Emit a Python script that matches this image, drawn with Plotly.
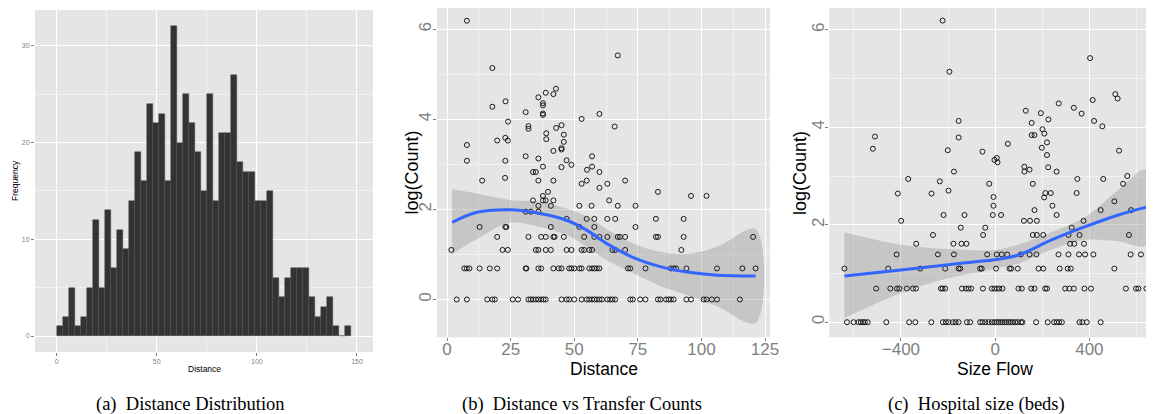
import plotly.graph_objects as go

# ---------------- data ----------------
# (a) histogram: bins of width 3 starting at 0
bin_start = [0, 3, 6, 9, 12, 15, 18, 21, 24, 27, 30, 33, 36, 39, 42, 45, 48, 51, 54, 57,
             60, 63, 66, 69, 72, 75, 78, 81, 84, 87, 90, 93, 96, 99, 102, 105, 108, 111,
             114, 117, 120, 123, 126, 129, 132, 135, 138, 141, 144]
freq = [1, 2, 5, 1, 2, 5, 12, 5, 13, 7, 11, 9, 14, 19, 16, 24, 22, 23, 16, 32,
        20, 25, 22, 19, 15, 25, 14, 21, 21, 27, 18, 17, 17, 14, 14, 15, 6, 4,
        6, 7, 7, 7, 4, 2, 3, 4, 1, 0, 1]
bin_width = 3

# (b) Distance vs log(Count)
dist_x = [7.8, 17.8, 67.1, 23.0, 17.8, 35.9, 38.8, 42.8, 41.8, 37.7, 37.7, 37.7, 37.7, 30.9,
          52.9, 59.9, 24.0, 32.0, 32.0, 42.9, 45.0, 65.9, 39.0, 45.9, 39.0, 45.9, 7.8, 22.9,
          19.7, 23.9, 45.0, 45.0, 41.8, 7.8, 22.9, 30.9, 35.9, 57.0, 47.0, 45.0, 48.9, 37.7,
          57.0, 55.0, 33.8, 34.9, 59.9, 22.8, 13.8, 35.9, 41.8, 52.9, 54.9, 63.0, 70.0, 59.9,
          39.7, 37.7, 82.9, 95.9, 102.0, 33.8, 37.7, 38.8, 41.8, 63.7, 35.9, 40.8, 52.0, 56.8,
          67.1, 74.1, 30.9, 32.9, 35.9, 47.0, 54.9, 57.9, 63.0, 66.1, 82.1, 93.0, 12.8, 22.9,
          23.3, 40.8, 52.0, 57.9, 74.1,
          19.7, 32.0, 37.0, 38.8, 41.8, 42.3, 45.9, 53.9, 57.9, 59.9, 63.0, 67.1, 68.0, 70.0,
          82.1, 82.9, 93.0, 120.3,
          1.7, 21.8, 23.9, 34.9, 35.9, 38.8, 40.8, 47.0, 48.9, 52.9, 53.9, 55.9, 57.0, 65.0,
          66.1, 70.0, 92.1,
          6.8, 7.8, 8.8, 12.8, 16.8, 19.7, 30.9, 31.2, 35.9, 37.0, 41.8, 43.9, 45.0, 48.0,
          48.9, 50.0, 52.0, 52.9, 55.9, 57.0, 57.9, 58.9, 59.9, 71.1, 72.0, 78.0, 88.0, 89.1,
          90.0, 94.1, 106.1, 116.1, 121.3,
          3.8, 7.8, 15.8, 17.8, 18.8, 25.8, 27.9, 32.0, 32.9, 33.8, 34.9, 35.9, 37.0, 37.9,
          38.8, 45.0, 47.0, 48.0, 50.0, 52.9, 54.9, 55.9, 57.0, 57.9, 58.9, 59.9, 60.9, 63.0,
          64.1, 65.0, 66.1, 72.0, 73.0, 75.9, 78.0, 82.9, 83.9, 86.1, 87.1, 88.0, 89.1, 94.1,
          95.9, 100.9, 102.0, 104.1, 106.1, 115.1]
dist_y = [6.19, 5.14, 5.42, 4.40, 4.28, 4.49, 4.59, 4.68, 4.56, 4.36, 4.31, 4.13, 4.10, 4.16,
          4.01, 4.12, 3.95, 3.85, 3.79, 3.81, 3.87, 3.84, 3.69, 3.66, 3.56, 3.50, 3.43, 3.59,
          3.53, 3.53, 3.36, 3.33, 3.30, 3.08, 3.08, 3.18, 3.13, 3.18, 3.09, 2.94, 2.99, 2.95,
          2.95, 2.88, 2.83, 2.83, 2.83, 2.70, 2.64, 2.64, 2.64, 2.57, 2.64, 2.57, 2.64, 2.48,
          2.39, 2.30, 2.39, 2.30, 2.30, 2.20, 2.20, 2.20, 2.20, 2.20, 2.08, 2.08, 2.08, 2.08,
          2.08, 2.08, 1.95, 1.95, 1.95, 1.79, 1.79, 1.79, 1.79, 1.79, 1.79, 1.79, 1.61, 1.61,
          1.61, 1.61, 1.61, 1.61, 1.61,
          1.39, 1.39, 1.39, 1.39, 1.39, 1.39, 1.39, 1.39, 1.39, 1.39, 1.39, 1.39, 1.39, 1.39,
          1.39, 1.39, 1.39, 1.39,
          1.10, 1.10, 1.10, 1.10, 1.10, 1.10, 1.10, 1.10, 1.10, 1.10, 1.10, 1.10, 1.10, 1.10,
          1.10, 1.10, 1.10,
          0.69, 0.69, 0.69, 0.69, 0.69, 0.69, 0.69, 0.69, 0.69, 0.69, 0.69, 0.69, 0.69, 0.69,
          0.69, 0.69, 0.69, 0.69, 0.69, 0.69, 0.69, 0.69, 0.69, 0.69, 0.69, 0.69, 0.69, 0.69,
          0.69, 0.69, 0.69, 0.69, 0.69,
          0, 0, 0, 0, 0, 0, 0, 0, 0, 0, 0, 0, 0, 0,
          0, 0, 0, 0, 0, 0, 0, 0, 0, 0, 0, 0, 0, 0,
          0, 0, 0, 0, 0, 0, 0, 0, 0, 0, 0, 0, 0, 0,
          0, 0, 0, 0, 0, 0]
# loess fit (b)
fit_b_x = [2.0, 11.4, 24.6, 36.4, 47.0, 54.9, 62.8, 73.3, 83.8, 94.3, 106.2, 121.3]
fit_b_y = [1.71, 1.93, 1.99, 1.91, 1.76, 1.54, 1.24, 0.93, 0.73, 0.61, 0.54, 0.52]
fit_b_hi = [2.45, 2.36, 2.21, 2.17, 2.02, 1.84, 1.56, 1.24, 1.06, 1.01, 1.17, 1.56]
fit_b_lo = [1.01, 1.33, 1.70, 1.61, 1.43, 1.17, 0.87, 0.58, 0.30, 0.10, -0.15, -0.52]

# (c) Size Flow vs log(Count)
flow_x = [-223, -194, -155, -510, -155, -519, -201, -54, -175, -369, -235, -25, -413, -270,
          -198, -7, -7, -219, -130, -10, -399, -146, -42, -264, -51, -335, -177, -143, -122,
          -418, -243, -175, -34, -640, -454, -318, -212, -155, -148, -64, -57,
          -505, -445, -417, -407, -375, -349, -336, -230, -223, -212, -141, -124, -113, -102, -52,
          -629, -601, -580, -570, -561, -553, -541, -462, -365, -339, -271, -222, -209, -198,
          -180, -168, -155, -120, -106, -64, -54, -42, -28, -14, -3,
          403, 510, 520, 414, 270, 334, 130, 194, 367, 226, 420, 155, 455, 201, 209, 155, 167,
          54, 220, 198, 220, 526, -3, 7, 10, 124, 124, 146, 225, 261, 349, 459, 561, 160, 543,
          213, 208, 236, 346, 25, 167, 243, 261, 448, 506, 577, 122, 148, 177, 375, 325, 160,
          177, 204, 311, 358, 568, 318, 336, 377,
          7, 28, 51, 109, 146, 175, 269, 311, 356, 382, 417, 575, 619,
          4, 61, 68, 96, 184, 204, 274, 308, 321, 506,
          -14, -3, 8, 18, 31, 99, 113, 153, 167, 212, 220, 297, 315, 334, 379, 407, 555, 598,
          608, 642,
          6, 14, 23, 31, 40, 48, 57, 65, 74, 85, 96, 110, 116, 174, 223, 250, 261, 271, 283,
          358, 370, 389, 448]
flow_y = [6.19, 5.14, 4.13, 3.81, 3.79, 3.56, 3.53, 3.50, 3.09, 2.94, 2.89, 2.84, 2.64, 2.64,
          2.70, 2.57, 2.39, 2.20, 2.20, 2.20, 2.08, 1.94, 1.94, 1.79, 1.79, 1.61, 1.61, 1.61, 1.61,
          1.39, 1.39, 1.39, 1.39, 1.10, 1.10, 1.10, 1.10, 1.10, 1.10, 1.10, 1.10,
          0.69, 0.69, 0.69, 0.69, 0.69, 0.69, 0.69, 0.69, 0.69, 0.69, 0.69, 0.69, 0.69, 0.69, 0.69,
          0, 0, 0, 0, 0, 0, 0, 0, 0, 0, 0, 0, 0, 0,
          0, 0, 0, 0, 0, 0, 0, 0, 0, 0, 0,
          5.42, 4.68, 4.59, 4.56, 4.49, 4.40, 4.34, 4.29, 4.28, 4.16, 4.13, 4.09, 4.02, 3.96, 3.87,
          3.84, 3.84, 3.66, 3.69, 3.58, 3.43, 3.52, 3.33, 3.37, 3.28, 3.19, 3.09, 3.13, 3.18, 3.09,
          2.94, 2.94, 3.00, 2.84, 2.84, 2.65, 2.56, 2.65, 2.65, 2.20, 2.30, 2.39, 2.20, 2.30, 2.48,
          2.30, 2.08, 2.08, 2.08, 2.08, 1.94, 1.79, 1.79, 1.79, 1.79, 1.79, 1.79, 1.61, 1.61, 1.61,
          1.39, 1.39, 1.39, 1.39, 1.39, 1.39, 1.39, 1.39, 1.39, 1.39, 1.39, 1.39, 1.39,
          1.10, 1.10, 1.10, 1.10, 1.10, 1.10, 1.10, 1.10, 1.10, 1.10,
          0.69, 0.69, 0.69, 0.69, 0.69, 0.69, 0.69, 0.69, 0.69, 0.69, 0.69, 0.69, 0.69, 0.69,
          0.69, 0.69, 0.69, 0.69, 0.69, 0.69,
          0, 0, 0, 0, 0, 0, 0, 0, 0, 0, 0, 0, 0, 0, 0, 0, 0, 0, 0,
          0, 0, 0, 0]
# loess fit (c)
fit_c_x = [-640, -400, -200, -42, 0, 99, 240, 382, 523, 642]
fit_c_y = [0.95, 1.07, 1.18, 1.26, 1.28, 1.38, 1.69, 1.96, 2.20, 2.36]
fit_c_hi = [1.84, 1.59, 1.50, 1.47, 1.48, 1.59, 1.85, 2.16, 2.72, 3.13]
fit_c_lo = [0.08, 0.60, 0.90, 1.05, 1.10, 1.20, 1.49, 1.69, 1.66, 1.58]

captions = ["(a)\u00a0 Distance Distribution",
            "(b)\u00a0 Distance vs Transfer Counts",
            "(c)\u00a0 Hospital size (beds)"]

# ---------------- style ----------------
W, H = 1154, 414
OFF = 8  # default page margin around the plot div
BG = "#E5E5E5"
TICKC = "#7F7F7F"
SANS = "Liberation Sans, Arial, sans-serif"
SERIF = "Liberation Serif, Times New Roman, serif"


def px_x(v):
    return min(1.0, max(0.0, (v - OFF) / W))


def px_y(v):
    return min(1.0, max(0.0, 1 - (v - OFF) / H))


fig = go.Figure()

# (a) histogram
fig.add_trace(go.Bar(
    x=[b + bin_width / 2 for b in bin_start], y=freq, width=[bin_width] * len(freq),
    marker=dict(color="#333333", line=dict(color="#4D4D4D", width=0.5)),
    xaxis="x", yaxis="y", showlegend=False, hoverinfo="x+y"))

# (b)
fig.add_trace(go.Scatter(
    x=fit_b_x + fit_b_x[::-1], y=fit_b_hi + fit_b_lo[::-1], fill="toself",
    fillcolor="rgba(153,153,153,0.4)", line=dict(width=0, shape="spline"),
    mode="lines", xaxis="x2", yaxis="y2", showlegend=False, hoverinfo="skip"))
fig.add_trace(go.Scatter(
    x=dist_x, y=dist_y, mode="markers",
    marker=dict(symbol="circle-open", size=5, color="#1a1a1a", line=dict(width=1)),
    xaxis="x2", yaxis="y2", showlegend=False))
fig.add_trace(go.Scatter(
    x=fit_b_x, y=fit_b_y, mode="lines", line=dict(color="#3366FF", width=3, shape="spline"),
    xaxis="x2", yaxis="y2", showlegend=False))

# (c)
fig.add_trace(go.Scatter(
    x=fit_c_x + fit_c_x[::-1], y=fit_c_hi + fit_c_lo[::-1], fill="toself",
    fillcolor="rgba(153,153,153,0.4)", line=dict(width=0, shape="spline"),
    mode="lines", xaxis="x3", yaxis="y3", showlegend=False, hoverinfo="skip"))
fig.add_trace(go.Scatter(
    x=flow_x, y=flow_y, mode="markers",
    marker=dict(symbol="circle-open", size=5, color="#1a1a1a", line=dict(width=1)),
    xaxis="x3", yaxis="y3", showlegend=False))
fig.add_trace(go.Scatter(
    x=fit_c_x, y=fit_c_y, mode="lines", line=dict(color="#3366FF", width=3, shape="spline"),
    xaxis="x3", yaxis="y3", showlegend=False))


def axis(domain, rng, dtick, minor, size, angle=0, anchor=None, standoff=0):
    return dict(domain=domain, range=rng, dtick=dtick, tick0=0, showgrid=True,
                gridcolor="white", gridwidth=1, zeroline=False, showline=False,
                ticks="outside", ticklen=3, tickcolor=TICKC, tickwidth=1,
                tickfont=dict(family=SANS, size=size, color=TICKC), tickangle=angle,
                ticklabelstandoff=standoff,
                minor=dict(dtick=minor, tick0=0, showgrid=True, gridcolor="#F2F2F2",
                           gridwidth=0.6, ticks=""),
                anchor=anchor, fixedrange=True, automargin=False)


# panel pixel boxes on the page (top clipped at the page margin for panels b, c)
p1 = dict(x0=35, x1=373, y0=10, y1=352)
p2 = dict(x0=437, x1=770, y0=8, y1=337.3)
p3 = dict(x0=829.3, x1=1161, y0=8, y1=337.3)

fig.update_layout(
    width=W, height=H, margin=dict(l=0, r=0, t=0, b=0),
    paper_bgcolor="white", plot_bgcolor=BG, bargap=0,
    xaxis=axis([px_x(p1["x0"]), px_x(p1["x1"])], [-10.8, 158], 50, 25, 7, anchor="y"),
    yaxis=axis([px_y(p1["y1"]), px_y(p1["y0"])], [-1.65, 33.7], 10, 5, 7, anchor="x"),
    xaxis2=axis([px_x(p2["x0"]), px_x(p2["x1"])], [-3.95, 126.95], 25, 12.5, 17,
                anchor="y2", standoff=-7),
    yaxis2=axis([px_y(p2["y1"]), px_y(p2["y0"])], [-0.84, 6.473], 2, 1, 17, angle=-90,
                anchor="x2", standoff=-5),
    xaxis3=axis([px_x(p3["x0"]), px_x(p3["x1"])], [-704, 704], 400, 200, 17,
                anchor="y3", standoff=-7),
    yaxis3=axis([px_y(p3["y1"]), px_y(p3["y0"])], [-0.31, 6.448], 2, 1, 17, angle=-90,
                anchor="x3", standoff=-5),
)

ann = []
# axis titles
ann.append(dict(text="Distance", x=px_x(204), y=px_y(369), font=dict(family=SANS, size=8.5, color="black")))
ann.append(dict(text="Frequency", x=px_x(15), y=px_y(181), textangle=-90, font=dict(family=SANS, size=8.5, color="black")))
ann.append(dict(text="Distance", x=px_x(603.5), y=px_y(368.5), font=dict(family=SANS, size=17.5, color="black")))
ann.append(dict(text="log(Count)", x=px_x(411.5), y=px_y(173), textangle=-90, font=dict(family=SANS, size=18, color="black")))
ann.append(dict(text="Size Flow", x=px_x(995), y=px_y(368.5), font=dict(family=SANS, size=17.5, color="black")))
ann.append(dict(text="log(Count)", x=px_x(800), y=px_y(173), textangle=-90, font=dict(family=SANS, size=18, color="black")))
# captions
for cx, txt in zip([190, 582, 976], captions):
    ann.append(dict(text=txt, x=px_x(cx), y=px_y(404), font=dict(family=SERIF, size=18.5, color="black")))
for a in ann:
    a.update(xref="paper", yref="paper", showarrow=False, xanchor="center", yanchor="middle")
fig.update_layout(annotations=ann)

fig.write_html("out.html")
